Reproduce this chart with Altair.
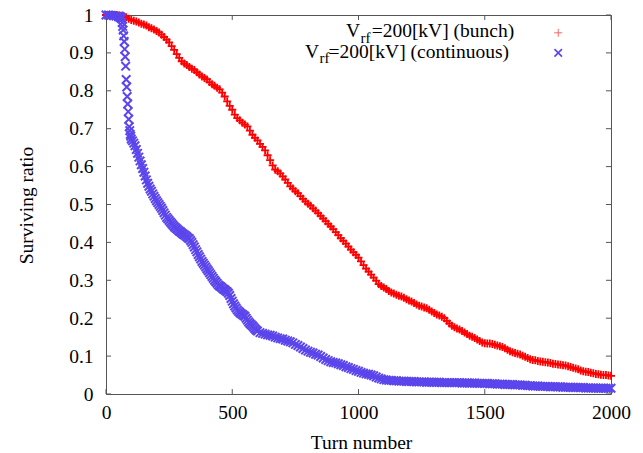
import altair as alt
import pandas as pd

# ---------------- data ----------------
turns = list(range(0, 2001, 10))

bunch = [
    1, 1, 1, 1, 1, 0.999, 0.998, 0.997, 0.994, 0.99,
    0.987, 0.985, 0.983, 0.98, 0.977, 0.975, 0.972, 0.968, 0.965, 0.962,
    0.958, 0.954, 0.948, 0.942, 0.935, 0.928, 0.918, 0.908, 0.897, 0.887,
    0.878, 0.872, 0.868, 0.863, 0.858, 0.855, 0.849, 0.843, 0.838, 0.834,
    0.83, 0.823, 0.817, 0.813, 0.808, 0.804, 0.795, 0.785, 0.772, 0.76,
    0.75, 0.737, 0.728, 0.722, 0.716, 0.711, 0.706, 0.695, 0.684, 0.676,
    0.669, 0.66, 0.652, 0.643, 0.63, 0.617, 0.603, 0.592, 0.588, 0.582,
    0.574, 0.566, 0.557, 0.548, 0.542, 0.535, 0.53, 0.522, 0.515, 0.508,
    0.502, 0.497, 0.49, 0.484, 0.477, 0.47, 0.463, 0.456, 0.449, 0.442,
    0.435, 0.427, 0.419, 0.411, 0.404, 0.397, 0.389, 0.381, 0.374, 0.367,
    0.36, 0.35, 0.34, 0.331, 0.323, 0.315, 0.307, 0.299, 0.29, 0.285,
    0.281, 0.277, 0.272, 0.268, 0.265, 0.262, 0.259, 0.257, 0.254, 0.25,
    0.247, 0.244, 0.24, 0.236, 0.233, 0.231, 0.228, 0.226, 0.222, 0.218,
    0.214, 0.21, 0.207, 0.204, 0.2, 0.193, 0.186, 0.18, 0.176, 0.173,
    0.17, 0.166, 0.162, 0.158, 0.154, 0.151, 0.148, 0.144, 0.14, 0.136,
    0.134, 0.133, 0.133, 0.132, 0.13, 0.128, 0.126, 0.124, 0.121, 0.117,
    0.113, 0.11, 0.108, 0.106, 0.104, 0.101, 0.098, 0.095, 0.092, 0.09,
    0.089, 0.087, 0.086, 0.085, 0.084, 0.083, 0.082, 0.08, 0.079, 0.078,
    0.077, 0.076, 0.075, 0.073, 0.071, 0.069, 0.067, 0.065, 0.062, 0.06,
    0.059, 0.058, 0.056, 0.055, 0.053, 0.052, 0.051, 0.05, 0.05, 0.049,
    0.048,
]

continuous = [
    1, 1, 0.999, 0.998, 0.997, 0.995, 0.993, 0.945, 0.83, 0.725,
    0.673, 0.662, 0.645, 0.625, 0.605, 0.585, 0.565, 0.548, 0.535, 0.522,
    0.51, 0.5, 0.49, 0.478, 0.466, 0.458, 0.45, 0.442, 0.436, 0.43,
    0.425, 0.42, 0.415, 0.41, 0.4, 0.388, 0.375, 0.362, 0.35, 0.34,
    0.33, 0.32, 0.31, 0.3, 0.292, 0.285, 0.28, 0.275, 0.27, 0.26,
    0.245, 0.232, 0.222, 0.215, 0.21, 0.205, 0.195, 0.186, 0.18, 0.172,
    0.166, 0.162, 0.16, 0.158, 0.156, 0.155, 0.153, 0.15, 0.148, 0.146,
    0.145, 0.142, 0.14, 0.138, 0.135, 0.131, 0.128, 0.124, 0.12, 0.116,
    0.113, 0.11, 0.108, 0.105, 0.103, 0.099, 0.095, 0.091, 0.088, 0.085,
    0.083, 0.082, 0.08, 0.077, 0.075, 0.072, 0.07, 0.067, 0.065, 0.062,
    0.06, 0.057, 0.055, 0.053, 0.052, 0.05, 0.048, 0.045, 0.042, 0.04,
    0.038, 0.037, 0.036, 0.036, 0.035, 0.035, 0.034, 0.034, 0.034, 0.033,
    0.033, 0.033, 0.033, 0.032, 0.032, 0.032, 0.032, 0.031, 0.031, 0.031,
    0.031, 0.031, 0.031, 0.030, 0.030, 0.030, 0.030, 0.030, 0.030, 0.030,
    0.030, 0.029, 0.029, 0.029, 0.029, 0.029, 0.029, 0.028, 0.028, 0.028,
    0.028, 0.028, 0.027, 0.027, 0.027, 0.026, 0.026, 0.026, 0.025, 0.025,
    0.025, 0.025, 0.024, 0.024, 0.024, 0.023, 0.023, 0.022, 0.022, 0.021,
    0.021, 0.021, 0.020, 0.020, 0.020, 0.020, 0.019, 0.019, 0.019, 0.019,
    0.019, 0.018, 0.018, 0.018, 0.018, 0.017, 0.017, 0.017, 0.017, 0.017,
    0.016, 0.016, 0.016, 0.016, 0.016, 0.015, 0.015, 0.015, 0.015, 0.015,
    0.015,
]

# extra readings in the steep drop of the continuous beam
steep_turns = [52, 54, 56, 58, 62, 64, 66, 68, 72, 74, 76, 78,
               82, 84, 86, 88, 92, 94, 96, 98]
steep_values = [0.997, 0.996, 0.994, 0.993, 0.99, 0.98, 0.97, 0.96, 0.93, 0.91, 0.89, 0.865,
                0.81, 0.785, 0.765, 0.745, 0.705, 0.695, 0.685, 0.68]

# extra readings between the 10-turn grid where the continuous curve falls fast
mid_turns = list(range(105, 600, 10))
mid_values = [
    0.668, 0.655, 0.635, 0.615, 0.595, 0.575, 0.556, 0.541, 0.528, 0.516,
    0.505, 0.495, 0.484, 0.472, 0.462, 0.454, 0.446, 0.439, 0.433, 0.428,
    0.422, 0.418, 0.412, 0.405, 0.394, 0.381, 0.368, 0.356, 0.345, 0.335,
    0.325, 0.315, 0.305, 0.296, 0.288, 0.283, 0.277, 0.272, 0.266, 0.252,
    0.238, 0.227, 0.218, 0.212, 0.207, 0.2, 0.19, 0.183, 0.176, 0.169,
]

x_ticks = [0, 500, 1000, 1500, 2000]
y_ticks = [0, 0.1, 0.2, 0.3, 0.4, 0.5, 0.6, 0.7, 0.8, 0.9, 1]

label_bunch = "=200[kV] (bunch)"
label_cont = "=200[kV] (continuous)"

# ---------------- styling ----------------
FONT = "Liberation Serif, Times New Roman, serif"
RED = "#ff0000"
BLUE = "#5b45ec"
FRAME = "#555555"
PLUS = "M-1,0L1,0M0,-1L0,1"
CROSS = "M-1,-1L1,1M-1,1L1,-1"

xaxis = alt.Axis(values=x_ticks, title="Turn number", grid=False, ticks=False, domain=False,
                 labelFont=FONT, labelFontSize=19.5, labelColor="black", labelPadding=9,
                 labelFlush=False, labelOverlap=False, format="d",
                 titleFont=FONT, titleFontSize=19.5, titleFontWeight="normal", titleColor="black",
                 titleX=255, titleY=54, titleAlign="center", titleBaseline="alphabetic")
yaxis = alt.Axis(values=y_ticks, title="Surviving ratio", grid=False, ticks=False, domain=False,
                 labelFont=FONT, labelFontSize=19.5, labelColor="black", labelPadding=13,
                 labelFlush=False, labelOverlap=False, format="~g",
                 titleFont=FONT, titleFontSize=19.5, titleFontWeight="normal", titleColor="black",
                 titleX=-80, titleY=190, titleAngle=270, titleAlign="center", titleBaseline="middle")

xs = alt.Scale(domain=[0, 2000], nice=False, zero=False)
ys = alt.Scale(domain=[0, 1], nice=False, zero=False)


def X():
    return alt.X("t:Q", scale=xs, axis=xaxis)


def Y():
    return alt.Y("v:Q", scale=ys, axis=yaxis)


# ---------------- tables ----------------
red_df = pd.DataFrame({"t": turns, "v": bunch})
blue_df = pd.DataFrame({"t": turns + steep_turns + mid_turns,
                        "v": continuous + steep_values + mid_values})

# inward ticks on all four sides (gnuplot style)
tick_len_t = 20      # in turns
tick_len_v = 0.013   # in ratio
hticks = pd.DataFrame(
    [{"t": 0, "t2": tick_len_t, "v": y} for y in y_ticks]
    + [{"t": 2000 - tick_len_t, "t2": 2000, "v": y} for y in y_ticks]
)
vticks = pd.DataFrame(
    [{"t": x, "v": 0, "v2": tick_len_v} for x in x_ticks]
    + [{"t": x, "v": 1 - tick_len_v, "v2": 1} for x in x_ticks]
)

# legend (inside, top right)
leg_main = pd.DataFrame({"t": [950.9, 788.4, 1052.0, 881.5],
                         "v": [0.942, 0.8876, 0.942, 0.8876],
                         "txt": ["V", "V", label_bunch, label_cont]})
leg_sub = pd.DataFrame({"t": [1008.0, 845.5], "v": [0.9263, 0.8737], "txt": ["rf", "rf"]})
leg_red = pd.DataFrame({"t": [1791], "v": [0.953]})
leg_blue = pd.DataFrame({"t": [1791], "v": [0.9]})

# ---------------- layers ----------------
htick_layer = alt.Chart(hticks).mark_rule(color=FRAME, strokeWidth=1).encode(
    x=X(), x2="t2:Q", y=Y())
vtick_layer = alt.Chart(vticks).mark_rule(color=FRAME, strokeWidth=1).encode(
    x=X(), y=Y(), y2="v2:Q")

red_layer = alt.Chart(red_df).mark_point(shape=PLUS, filled=False, color=RED, size=64,
                                         strokeWidth=1.8, opacity=1).encode(x=X(), y=Y())
blue_layer = alt.Chart(blue_df).mark_point(shape=CROSS, filled=False, color=BLUE, size=72,
                                           strokeWidth=2, opacity=1).encode(x=X(), y=Y())

leg_red_layer = alt.Chart(leg_red).mark_point(shape=PLUS, filled=False, color=RED, size=64,
                                              strokeWidth=1, opacity=0.6).encode(x=X(), y=Y())
leg_blue_layer = alt.Chart(leg_blue).mark_point(shape=CROSS, filled=False, color=BLUE, size=56,
                                                strokeWidth=1.6, opacity=1).encode(x=X(), y=Y())

text_main = alt.Chart(leg_main).mark_text(font=FONT, fontSize=19.5, align="left",
                                          baseline="alphabetic", color="black").encode(
    x=X(), y=Y(), text="txt:N")
text_sub = alt.Chart(leg_sub).mark_text(font=FONT, fontSize=15, align="left",
                                        baseline="alphabetic", color="black").encode(
    x=X(), y=Y(), text="txt:N")

chart = alt.layer(
    htick_layer, vtick_layer, red_layer, blue_layer,
    leg_red_layer, leg_blue_layer, text_main, text_sub,
).properties(
    width=505, height=379,
    autosize=alt.AutoSizeParams(type="none"),
    padding={"left": 98, "top": 7, "right": 24, "bottom": 60},
    background="white",
).configure_view(stroke=FRAME, strokeWidth=1)

chart.save("out.html", embed_options={"renderer": "svg", "actions": False})
